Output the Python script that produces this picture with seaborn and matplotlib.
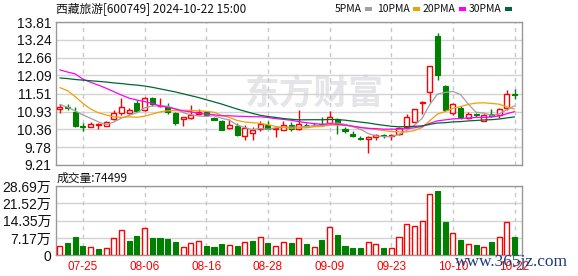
import numpy as np
import pandas as pd
import matplotlib
matplotlib.use('Agg')
import matplotlib.pyplot as plt
from matplotlib.patches import Rectangle
from matplotlib import font_manager
import seaborn as sns

# ---------------- data ----------------
dates = ['07-22', '07-23', '07-24', '07-25', '07-26', '07-29', '07-30', '07-31', '08-01', '08-02',
         '08-05', '08-06', '08-07', '08-08', '08-09', '08-12', '08-13', '08-14', '08-15', '08-16',
         '08-19', '08-20', '08-21', '08-22', '08-23', '08-26', '08-27', '08-28', '08-29', '08-30',
         '09-02', '09-03', '09-04', '09-05', '09-06', '09-09', '09-10', '09-11', '09-12', '09-13',
         '09-18', '09-19', '09-20', '09-23', '09-24', '09-25', '09-26', '09-27', '09-30', '10-08',
         '10-09', '10-10', '10-11', '10-14', '10-15', '10-16', '10-17', '10-18', '10-21', '10-22']
opens = [11.00, 11.06, 10.93, 10.45, 10.42, 10.51, 10.48, 10.68, 10.87, 10.89,
         11.20, 10.98, 11.36, 11.10, 11.07, 10.87, 10.69, 10.71, 10.86, 10.93,
         10.72, 10.64, 10.39, 10.46, 10.14, 10.25, 10.37, 10.49, 10.36, 10.34,
         10.50, 10.36, 10.51, 10.49, 10.52, 10.56, 10.70, 10.37, 10.20, 10.08,
         10.06, 10.10, 10.17, 10.14, 10.22, 10.42, 10.60, 11.20, 11.55, 13.36,
         11.75, 10.89, 11.05, 10.73, 10.84, 10.64, 10.84, 10.82, 11.03, 11.48]
highs = [11.16, 11.17, 11.07, 10.57, 10.58, 10.55, 10.62, 10.98, 11.38, 11.05,
         11.30, 11.40, 11.40, 11.38, 11.20, 10.90, 10.75, 11.14, 11.00, 10.96,
         10.76, 10.66, 10.68, 10.55, 10.50, 10.44, 10.63, 10.62, 10.40, 10.63,
         10.58, 10.98, 10.56, 10.55, 10.74, 10.96, 10.72, 10.42, 10.30, 10.13,
         10.14, 10.21, 10.20, 10.20, 10.42, 10.84, 11.02, 11.28, 12.38, 13.45,
         11.78, 11.20, 11.10, 10.92, 10.88, 10.85, 11.00, 11.05, 11.62, 11.64]
lows = [10.89, 10.98, 10.42, 10.31, 10.42, 10.38, 10.47, 10.66, 10.82, 10.85,
        10.93, 10.95, 11.10, 11.06, 10.86, 10.50, 10.48, 10.70, 10.82, 10.80,
        10.65, 10.33, 10.36, 10.15, 10.00, 10.01, 10.31, 10.36, 10.12, 10.33,
        10.31, 10.33, 10.43, 10.47, 10.47, 10.52, 10.22, 10.25, 10.10, 10.00,
        9.61, 10.00, 10.08, 10.00, 10.19, 10.40, 10.58, 10.84, 11.25, 11.94,
        10.96, 10.83, 10.70, 10.70, 10.76, 10.62, 10.76, 10.72, 10.98, 11.32]
closes = [11.09, 11.03, 10.47, 10.44, 10.53, 10.52, 10.58, 10.89, 11.07, 10.98,
          10.95, 11.36, 11.17, 11.12, 10.90, 10.55, 10.74, 10.82, 10.93, 10.82,
          10.66, 10.35, 10.50, 10.16, 10.39, 10.34, 10.53, 10.38, 10.39, 10.49,
          10.36, 10.52, 10.49, 10.51, 10.49, 10.77, 10.53, 10.29, 10.15, 10.05,
          10.10, 10.16, 10.15, 10.16, 10.40, 10.74, 11.00, 11.25, 12.38, 12.11,
          10.98, 11.16, 10.74, 10.84, 10.82, 10.83, 10.80, 11.00, 11.49, 11.45]
# volume in 万
volumes = [3.74, 5.1, 7.6, 3.9, 3.3, 2.6, 2.9, 7.1, 10.4, 6.0,
           8.0, 11.2, 7.2, 7.2, 6.8, 5.3, 3.3, 5.0, 5.8, 3.9,
           3.5, 4.7, 4.2, 3.9, 5.5, 6.0, 7.5, 5.1, 3.7, 5.4,
           5.1, 7.1, 4.7, 3.3, 6.4, 11.6, 8.4, 3.9, 3.0, 3.0,
           5.5, 4.7, 3.0, 2.9, 7.5, 12.9, 12.1, 14.1, 25.4, 26.7,
           13.9, 9.3, 6.4, 4.7, 4.3, 3.3, 5.3, 7.6, 13.9, 7.4499]
# moving-average values at the start of the window
ma5_head = [11.16, 11.07, 10.95, 10.82]
ma10_head = [11.70, 11.60, 11.41, 11.19, 11.01, 10.89, 10.82, 10.76, 10.74]
ma20_head = [12.27, 12.20, 12.14, 11.97, 11.87, 11.78, 11.68, 11.57, 11.46, 11.36,
             11.30, 11.25, 11.19, 11.11, 11.07, 11.01, 10.95, 10.92, 10.87]
ma30_head = [12.01, 11.99, 11.96, 11.94, 11.92, 11.90, 11.88, 11.85, 11.83, 11.80,
             11.78, 11.75, 11.71, 11.66, 11.61, 11.56, 11.50, 11.44, 11.38, 11.31,
             11.24, 11.17, 11.09, 11.01, 10.94, 10.87, 10.81, 10.77, 10.74]
price_ticks = [9.21, 9.78, 10.36, 10.93, 11.51, 12.09, 12.66, 13.24, 13.81]
vol_ticks = [0, 7.17, 14.35, 21.52, 28.69]
date_ticks = ['07-25', '08-06', '08-16', '08-28', '09-09', '09-23', '10-10', '10-22']
title = '西藏旅游[600749] 2024-10-22 15:00'
legend_names = ['5PMA', '10PMA', '20PMA', '30PMA']

# ---------------- style ----------------
sns.set_theme(style='white')
names = {f.name for f in font_manager.fontManager.ttflist}
NUM = 'Liberation Sans Narrow' if 'Liberation Sans Narrow' in names else 'Liberation Sans'
CJK = 'Noto Sans CJK SC'
plt.rcParams['font.family'] = [NUM, CJK, 'DejaVu Sans']

RED = '#ff0000'
GREEN = '#008000'
MA_COLORS = ['#a0a0a0', '#f0a000', '#ff00ff', '#006633']
GRID = '#d3d3d3'
SPINE = '#999999'

W, H = 578, 276
fig = plt.figure(figsize=(W / 100, H / 100), dpi=100)
fig.patch.set_facecolor('white')

def px_axes(l, t, r, b):
    return fig.add_axes([l / W, 1 - b / H, (r - l) / W, (b - t) / H])

ax = px_axes(55.5, 22, 522.3, 165)
axv = px_axes(55.5, 186, 522.3, 255.3)

n = len(closes)
idx = np.arange(n)
df = pd.DataFrame({'i': idx, 'open': opens, 'high': highs, 'low': lows,
                   'close': closes, 'vol': volumes, 'date': dates})
cl = df['close']
for w, head in zip([5, 10, 20, 30], [ma5_head, ma10_head, ma20_head, ma30_head]):
    m = cl.rolling(w).mean()
    m.iloc[:len(head)] = head
    df[f'ma{w}'] = m

prev = df['close'].shift(1).fillna(df['open'])
vol_up = df['close'] >= prev

BW = 0.66
for a in (ax, axv):
    a.set_facecolor('white')
    for s in a.spines.values():
        s.set_color(SPINE)
        s.set_linewidth(1.0)
    a.set_xlim(-0.56, 60.0)
    a.tick_params(axis='both', length=0, pad=3)

# grids
tick_pos = [dates.index(d) for d in date_ticks]
for a, ticks in ((ax, price_ticks), (axv, vol_ticks)):
    for t in ticks:
        a.axhline(t, color=GRID, lw=1.0, zorder=0.6)
    for p in tick_pos:
        a.axvline(p, color='#c8c8c8', lw=1.0, ls=(0, (3, 3)), zorder=0.6)

# watermark
ax.text(0.555, 0.50, '东方财富', transform=ax.transAxes, fontsize=25, fontweight='bold',
        family=CJK, color='#e4e4e9', ha='center', va='center', zorder=0.5)

# candles
for r in df.itertuples():
    c = RED if r.close >= r.open else GREEN
    ax.vlines(r.i, r.low, r.high, color=c, lw=1.0, zorder=2)
    lo = min(r.open, r.close)
    hgt = max(abs(r.close - r.open), 0.012)
    if r.close >= r.open:
        ax.add_patch(Rectangle((r.i - BW / 2, lo), BW, hgt, facecolor='white',
                               edgecolor=RED, lw=1.0, zorder=3))
    else:
        ax.add_patch(Rectangle((r.i - BW / 2, lo), BW, hgt, facecolor=GREEN,
                               edgecolor=GREEN, lw=0.8, zorder=3))

# moving averages
for w, col in zip([5, 10, 20, 30], MA_COLORS):
    sns.lineplot(data=df, x='i', y=f'ma{w}', ax=ax, color=col, lw=0.9, zorder=4,
                 legend=False)

ax.set_ylim(price_ticks[0], price_ticks[-1])
ax.set_yticks(price_ticks)
ax.set_yticklabels([f'{t:.2f}' for t in price_ticks], fontsize=10, family=[NUM, CJK], color='#111111')
ax.set_xticks(tick_pos)
ax.set_xticklabels([])
ax.set_xlabel('')
ax.set_ylabel('')

# volume bars
for r, vu in zip(df.itertuples(), vol_up):
    if vu:
        axv.add_patch(Rectangle((r.i - BW / 2, 0), BW, r.vol, facecolor='white',
                                edgecolor=RED, lw=1.0, zorder=3))
    else:
        axv.add_patch(Rectangle((r.i - BW / 2, 0), BW, r.vol, facecolor=GREEN,
                                edgecolor=GREEN, lw=0.8, zorder=3))
axv.set_ylim(0, vol_ticks[-1])
axv.set_yticks(vol_ticks)
axv.set_yticklabels(['0'] + [f'{t:.2f}万' for t in vol_ticks[1:]], fontsize=10,
                    family=[NUM, CJK], color='#111111')
axv.set_xticks(tick_pos)
axv.set_xticklabels(date_ticks, fontsize=8.5, color=RED, family='Liberation Sans')
axv.tick_params(axis='x', pad=4)

# title and texts
fig.text(56 / W, 1 - 9 / H, title, fontsize=8.5, family=[CJK, 'DejaVu Sans'],
         ha='left', va='center', color='#111111')
fig.text(57 / W, 1 - 178 / H, f'成交量:{volumes[-1] * 10000:.0f}', fontsize=8.5,
         family=[CJK, 'DejaVu Sans'], ha='left', va='center', color='#111111')

leg_end = [362, 410, 455, 501]
sw_x = [365, 413, 459, 505]
for name, lx, sx, col in zip(legend_names, leg_end, sw_x, MA_COLORS):
    fig.text(lx / W, 1 - 9 / H, name, fontsize=7.5, family=[CJK, 'DejaVu Sans'],
             ha='right', va='center', color='#111111')
    fig.add_artist(Rectangle((sx / W, 1 - 10.5 / H), 7 / W, 3 / H, facecolor=col,
                             edgecolor='none', transform=fig.transFigure))

# site watermark
fig.text(455 / W, 1 - 262 / H, 'www.365jz.com', fontsize=12.5, family='Liberation Serif',
         color='#1d3c78', ha='left', va='center', zorder=10)

fig.savefig('out.png', dpi=100, facecolor='white')
